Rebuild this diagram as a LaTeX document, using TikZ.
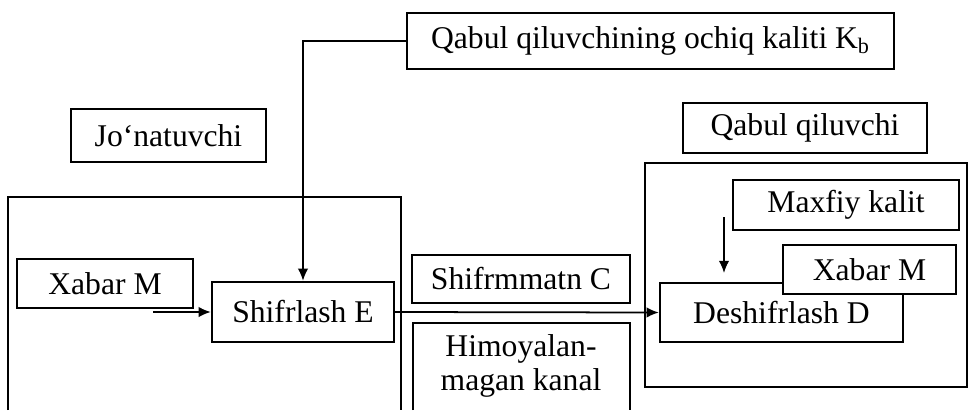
\documentclass[tikz,border=0pt]{standalone}
\usepackage{fontspec}
\setmainfont{Liberation Serif}
\usepackage{tikz}
\usetikzlibrary{calc,arrows.meta}

\begin{document}
\begin{tikzpicture}[
		x=0.02cm, y=-0.02cm,
		frame/.style={line width=1.3pt},
		link/.style={line width=1pt,-{Latex[length=7pt,width=6pt]}},
		every node/.style={rectangle,draw,fill=white,line width=1.3pt,inner sep=0pt,
			font=\fontsize{18}{19.5}\selectfont}]

		\useasboundingbox (0,0) rectangle (970,410);

		% frames of sender, channel and receiver
		\draw[frame] (8,410) |- (401,197) -- (401,410);
		\draw[frame] (413,410) |- (630,323) -- (630,410);
		\draw[frame] (645,163) rectangle (967,387);

		\node[minimum width=9.74cm, minimum height=1.12cm] (key) at (650.5,41) {Qabul qiluvchining ochiq kaliti K\textsubscript{b}};
		\node[minimum width=3.9cm, minimum height=1.06cm] (sender) at (168.5,135.5) {Jo‘natuvchi};
		\node[minimum width=4.88cm, minimum height=1cm] (receiver) at (805,128) {Qabul qiluvchi};

		\node[minimum width=3.52cm, minimum height=0.98cm] (msgin) at (105,283.5) {Xabar M};
		\node[minimum width=3.64cm, minimum height=1.2cm] (enc) at (303,312) {Shifrlash E};
		\node[minimum width=4.36cm, minimum height=0.96cm] (cipher) at (521,279) {Shifrmmatn C};
		\node[draw=none,fill=none,align=center] (chan) at (521,366) {Himoyalan-\\magan kanal};

		\node[minimum width=4.52cm, minimum height=1cm] (secret) at (846,205) {Maxfiy kalit};
		\node[minimum width=4.86cm, minimum height=1.18cm] (dec) at (781.5,312.5) {Deshifrlash D};
		\node[minimum width=3.46cm, minimum height=0.98cm] (msgout) at (869.5,269.5) {Xabar M};

		\coordinate (in) at (153,312);
		\coordinate (sk) at (724,217);

		\draw[link] (key.west) -| (enc.north);
		\draw[link] (in) -- (enc.west);
		\draw[link] (enc.east) -- (dec.west);
		\draw[link,shorten >=5pt] (sk) -- (sk |- dec.north);

\end{tikzpicture}
\end{document}
